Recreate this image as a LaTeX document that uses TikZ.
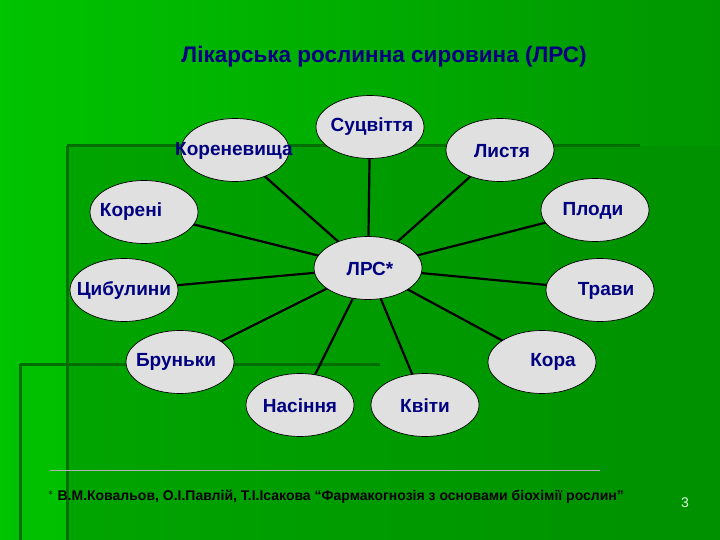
\documentclass[tikz,border=0pt]{standalone}
\usepackage{fontspec}
\setmainfont{Liberation Sans}
\usetikzlibrary{shapes.geometric}
\definecolor{bgL}{RGB}{0,195,0}
\definecolor{bgR}{RGB}{0,150,0}
\definecolor{inner}{RGB}{0,140,0}
\definecolor{frameline}{RGB}{0,110,0}
\definecolor{ell}{RGB}{224,224,224}
\definecolor{navy}{RGB}{0,0,128}
\tikzset{
  bubble/.style={ellipse, draw=black, line width=0.7pt, fill=ell, minimum width=108pt, minimum height=63pt, inner sep=0pt},
  lbl/.style={font=\fontsize{19}{22}\selectfont\bfseries, text=navy},
  spoke/.style={line width=2.2pt, black},
  deco/.style={frameline, line width=3pt}
}
\begin{document}
\begin{tikzpicture}[x=1pt,y=-1pt]
\useasboundingbox (0,0) rectangle (720,540);
\shade[left color=bgL, right color=bgR] (0,0) rectangle (720,540);
\fill[inner, opacity=0.5] (67,146) rectangle (720,540);
\draw[deco] (67,146) -- (640,146);
\draw[deco] (67,146) -- (67,540);
\draw[deco] (20,364) -- (380,364);
\draw[deco] (20,364) -- (20,540);
\node[font=\fontsize{22.5}{26}\selectfont\bfseries, text=navy] (title) at (384,57) {Лікарська рослинна сировина (ЛРС)};
\coordinate (c) at (368,268);
\coordinate (psuc) at (370,127);
\coordinate (pkor) at (235,150);
\coordinate (plys) at (500,150);
\coordinate (pkrn) at (144,212);
\coordinate (pplo) at (595,210);
\coordinate (pcyb) at (124,290);
\coordinate (ptra) at (600,290);
\coordinate (pbru) at (180,362);
\coordinate (pkora) at (542,362);
\coordinate (pnas) at (300,405);
\coordinate (pkvi) at (425,405);
\foreach \p in {psuc,pkor,plys,pkrn,pplo,pcyb,ptra,pbru,pkora,pnas,pkvi} \draw[spoke] (c) -- (\p);
\node[bubble] (suc) at (psuc) {};
\node[bubble] (kor) at (pkor) {};
\node[bubble] (lys) at (plys) {};
\node[bubble] (krn) at (pkrn) {};
\node[bubble] (plo) at (pplo) {};
\node[bubble] (lrs) at (c) {};
\node[bubble] (cyb) at (pcyb) {};
\node[bubble] (tra) at (ptra) {};
\node[bubble] (bru) at (pbru) {};
\node[bubble] (kora) at (pkora) {};
\node[bubble] (nas) at (pnas) {};
\node[bubble] (kvi) at (pkvi) {};
\node[lbl] at (372,127) {Суцвіття};
\node[lbl] at (234,151) {Кореневища};
\node[lbl] at (502,151) {Листя};
\node[lbl] at (131,212) {Корені};
\node[lbl] at (593,211) {Плоди};
\node[lbl] at (370,269) {ЛРС*};
\node[lbl] at (124,291) {Цибулини};
\node[lbl] at (606,291) {Трави};
\node[lbl] at (176,362) {Бруньки};
\node[lbl] at (553,362) {Кора};
\node[lbl] at (300,406) {Насіння};
\node[lbl] at (425,406) {Квіти};
\draw[gray!60, line width=0.6pt] (50,470) -- (600,470);
\node[anchor=west, font=\fontsize{14}{16}\selectfont\bfseries, text=black, inner sep=0pt] (foot) at (48,497) {$^{*}$ В.М.Ковальов, О.І.Павлій, Т.І.Ісакова “Фармакогнозія з основами біохімії рослин”};
\node[font=\fontsize{14}{16}\selectfont, text=white!85!green] (num) at (685,503) {3};
\end{tikzpicture}
\end{document}
